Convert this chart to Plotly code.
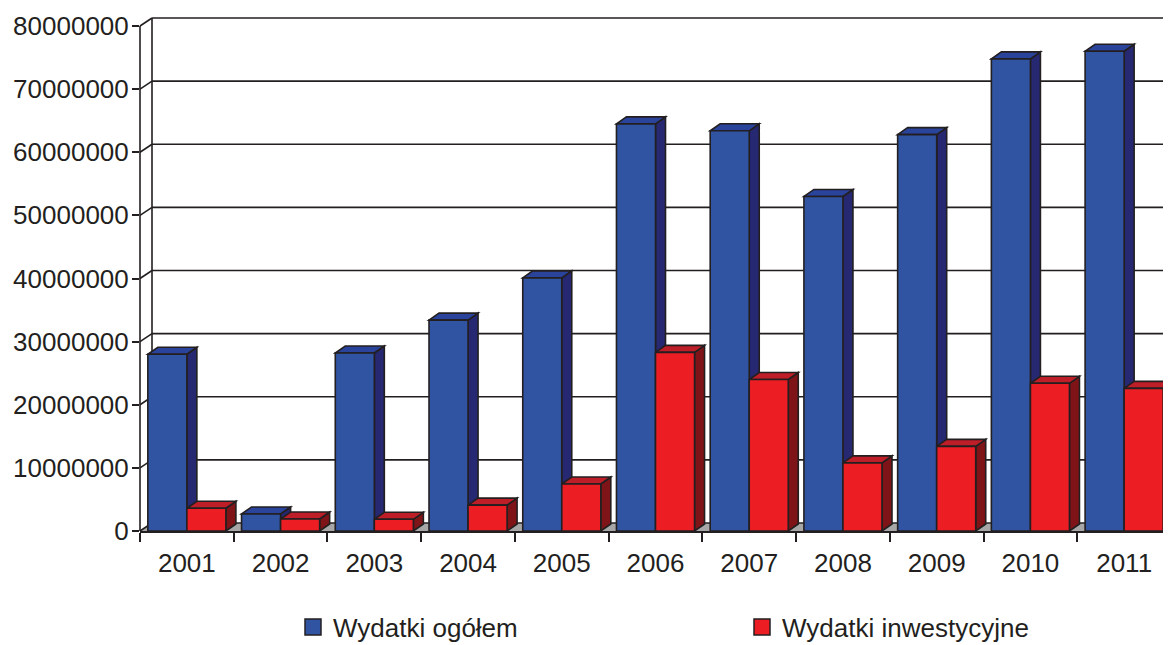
import plotly.graph_objects as go

# ---------------- data ----------------
years = ["2001", "2002", "2003", "2004", "2005", "2006", "2007", "2008", "2009", "2010", "2011"]
wydatki_ogolem = [28.0e6, 2.7e6, 28.2e6, 33.4e6, 40.1e6, 64.5e6, 63.4e6, 53.0e6, 62.8e6, 74.8e6, 76.0e6]
wydatki_inwestycyjne = [3.6e6, 1.9e6, 1.85e6, 4.1e6, 7.45e6, 28.3e6, 24.0e6, 10.8e6, 13.4e6, 23.4e6, 22.6e6]
y_tick_values = [0, 10e6, 20e6, 30e6, 40e6, 50e6, 60e6, 70e6, 80e6]
series_names = ["Wydatki ogółem", "Wydatki inwestycyjne"]

# ---------------- styling / geometry ----------------
WIN_W, WIN_H = 1171, 645
PAGE_OFF = 8                           # default body margin of the html page
FIG_W, FIG_H = WIN_W - PAGE_OFF, WIN_H - PAGE_OFF
# plot area in window pixels
WL, WT, WB = 140, 18, 531
L, T, B = WL - PAGE_OFF, WT - PAGE_OFF, WB - PAGE_OFF
R = 0
PW, PH = FIG_W - L - R, B - T
FRONT_TOP_WPX = 26                     # window row of the highest tick on the front axis
WALL_DX, WALL_DY = 12, 8               # depth of the back wall (px)
BAR_DX, BAR_DY = 10, 7                 # depth of each column (px)
BARGAP = 0.167
FONT = "Liberation Sans, Arial, sans-serif"
INK = "#231f20"
LINE_W = 1.6

BLUE = dict(front="#3054a2", side="#262872", top="#2a439b")
RED = dict(front="#ed1d24", side="#7f1418", top="#be1e28")
FLOOR = "#a7a7a7"

y_top_tick = max(y_tick_values)
px_per_unit_y = (WB - FRONT_TOP_WPX) / y_top_tick
YMAX = y_top_tick + (FRONT_TOP_WPX - WT) / px_per_unit_y
n_cat = len(years)
px_per_cat = PW / n_cat
bdx = BAR_DX / px_per_cat
bdy = BAR_DY / px_per_unit_y
bar_w = (1 - BARGAP) / 2


def px_x(wpx):
    """window pixel column -> paper x"""
    return (wpx - PAGE_OFF - L) / PW


def px_y(wpy):
    """window pixel row -> paper y"""
    return (B - (wpy - PAGE_OFF)) / PH


def val_wpy(v):
    return WB - v * px_per_unit_y


fig = go.Figure()

legend_widths = [404, 270]
for name, vals, col, lw in [
    (series_names[0], wydatki_ogolem, BLUE, legend_widths[0]),
    (series_names[1], wydatki_inwestycyjne, RED, legend_widths[1]),
]:
    fig.add_trace(go.Bar(
        x=years, y=vals, name=name, showlegend=False,
        marker=dict(color=col["front"], line=dict(color=INK, width=LINE_W)),
        hoverinfo="x+y",
    ))
    # legend entries
    fig.add_trace(go.Scatter(
        x=[None], y=[None], mode="markers", name=name, legendwidth=lw,
        marker=dict(symbol="square", size=18, color=col["front"], line=dict(color=INK, width=1.5)),
    ))

shapes = []
WR = WIN_W  # right edge of plot area (window px)

# floor
shapes.append(dict(
    type="path", xref="paper", yref="paper", layer="below",
    path=f"M {px_x(WL)},{px_y(WB)} L {px_x(WR)},{px_y(WB)} L {px_x(WR + WALL_DX)},{px_y(WB - WALL_DY)} "
         f"L {px_x(WL + WALL_DX)},{px_y(WB - WALL_DY)} Z",
    fillcolor=FLOOR, line=dict(width=0),
))

# back wall gridlines + left wall diagonals
for v in y_tick_values:
    fy = val_wpy(v)
    shapes.append(dict(type="line", xref="paper", yref="paper", layer="below",
                       x0=px_x(WL + WALL_DX), x1=px_x(WR + WALL_DX), y0=px_y(fy - WALL_DY), y1=px_y(fy - WALL_DY),
                       line=dict(color=INK, width=LINE_W)))
    shapes.append(dict(type="line", xref="paper", yref="paper", layer="below",
                       x0=px_x(WL), x1=px_x(WL + WALL_DX), y0=px_y(fy), y1=px_y(fy - WALL_DY),
                       line=dict(color=INK, width=LINE_W)))
# back wall left edge and front axis line
shapes.append(dict(type="line", xref="paper", yref="paper", layer="below",
                   x0=px_x(WL + WALL_DX), x1=px_x(WL + WALL_DX), y0=px_y(val_wpy(0) - WALL_DY),
                   y1=px_y(val_wpy(y_top_tick) - WALL_DY), line=dict(color=INK, width=LINE_W)))
shapes.append(dict(type="line", xref="paper", yref="paper", layer="above",
                   x0=0, x1=0, y0=0, y1=px_y(val_wpy(y_top_tick)), line=dict(color=INK, width=LINE_W)))

# 3D faces of each column
for i in range(n_cat):
    for vals, col, x0 in [
        (wydatki_ogolem, BLUE, i - bar_w),
        (wydatki_inwestycyjne, RED, i),
    ]:
        v = vals[i]
        x1 = x0 + bar_w
        shapes.append(dict(
            type="path", xref="x", yref="y", layer="below",
            path=f"M {x1},0 L {x1},{v} L {x1 + bdx},{v + bdy} L {x1 + bdx},{bdy} Z",
            fillcolor=col["side"], line=dict(color=INK, width=LINE_W),
        ))
        shapes.append(dict(
            type="path", xref="x", yref="y", layer="below",
            path=f"M {x0},{v} L {x1},{v} L {x1 + bdx},{v + bdy} L {x0 + bdx},{v + bdy} Z",
            fillcolor=col["top"], line=dict(color=INK, width=LINE_W),
        ))

fig.update_layout(
    width=FIG_W, height=FIG_H,
    margin=dict(l=L, r=R, t=T, b=FIG_H - B, pad=0, autoexpand=False),
    paper_bgcolor="white", plot_bgcolor="rgba(0,0,0,0)",
    barmode="group", bargap=BARGAP, bargroupgap=0,
    font=dict(family=FONT, size=24, color=INK),
    shapes=shapes,
    showlegend=True,
    legend=dict(
        orientation="h", x=px_x(293), xanchor="left", y=px_y(627), yanchor="middle",
        font=dict(family=FONT, size=26, color=INK),
        bgcolor="rgba(0,0,0,0)", borderwidth=0,
        itemclick=False, itemdoubleclick=False,
    ),
    xaxis=dict(
        type="category", range=[-0.5, n_cat - 0.5], automargin=False,
        showgrid=False, zeroline=False,
        showline=True, linecolor=INK, linewidth=LINE_W,
        tickson="boundaries", ticks="outside", ticklen=9, tickwidth=LINE_W, tickcolor=INK,
        tickfont=dict(family=FONT, size=26, color=INK), ticklabelstandoff=8,
        fixedrange=True,
    ),
    yaxis=dict(
        range=[0, YMAX], tickmode="array", tickvals=y_tick_values, automargin=False,
        tickformat="d",
        showgrid=False, zeroline=False, showline=False,
        ticks="outside", ticklen=7, tickwidth=LINE_W, tickcolor=INK,
        tickfont=dict(family=FONT, size=26, color=INK), ticklabelstandoff=-2,
        fixedrange=True,
    ),
)

fig.write_html("out.html")
